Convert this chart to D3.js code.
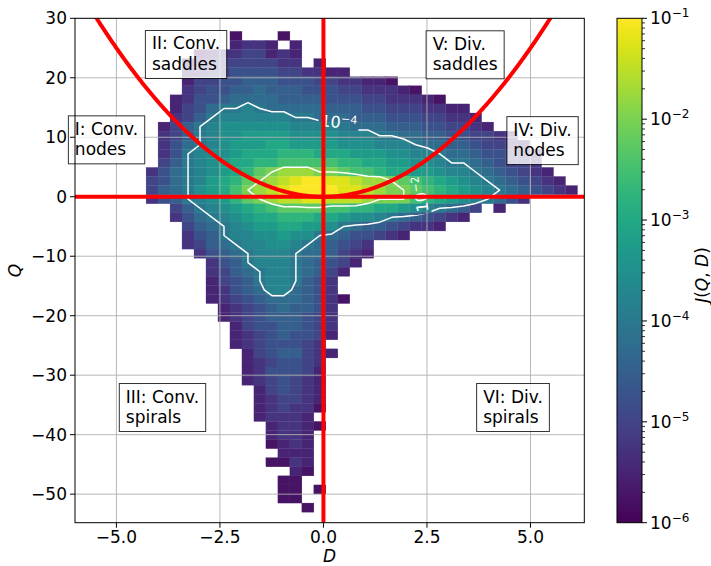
<!DOCTYPE html>
<html><head><meta charset="utf-8">
<script src="https://cdn.jsdelivr.net/npm/d3@7"></script>
<style>body{margin:0;background:#fff} svg{font-family:"DejaVu Sans",sans-serif}</style>
</head><body>
<svg id="c" width="711" height="566"></svg>
<script>
// ---------------- DATA ----------------
// histogram bin geometry (data units)
const dBinStart = -4.283, dBinWidth = 0.2894;   // D bins (left edge of column 0, width)
const qBinTop = 27.8, qBinHeight = 1.525;       // Q bins (top edge of row 0, height)
const nCols = 36;
// each row (top -> bottom): "firstColumn:levels", level char L (0-9,a-k) -> log10 J = -6 + L/4, '.' = empty
const histRows = [
 "7:1...1",
 "7:2332.2",
 "4:123344232",
 "3:1234444433.2",
 "3:2344 5555 4433 22",
 "3:2445 5666 5554 4332 21",
 "3:3455 6676 6655 5443 3321",
 "2:2355 6777 7666 6555 4433 321",
 "2:2457 8898 7777 7666 5544 4332 2",
 "2:3468 9999 9988 7776 6655 5443 32",
 "1:2468 9aaa aaa9 9998 7776 6655 4432",
 "1:3468 9aab bbba aaa9 9988 7766 5544 32",
 "1:3578 9abb bccb bbba aa99 9877 6654 432",
 "1:358 9aab cccd ddcc cbbb aa99 8776 5543 2",
 "1:468 9abc cdde eeee ddcc bbaa 9887 6544 3",
 "0:3578 9abc dfgh hhgg feed ccbb a998 7654 32",
 "0:4578 9bcd fghi jkkj jihh gfed cba9 8765 432",
 "0:4678 abce ghij kkkk jjih ggfe dcba 9876 5432",
 "0:3568 9abd fghi ijji iihg gged cba9 8753",
 "2:46 89ab cdef fffe eddc cba9 8764 .2",
 "2:357 89ab ccdd dccb aa98 7654 32",
 "3:4678 9abb ccbb a876 6543 32",
 "3:3568 99aa baa8 7655 432",
 "3:3467 899a a987 6543",
 "4:3567 8999 8776 432",
 "5:3568 9998 7654 2",
 "5:3467 8998 7642",
 "5:2456 8998 653",
 "5:2356 7997 653",
 "5:2345 6777 6531",
 "6:2345 6766 53",
 "6:2345 6665 43",
 "7:2455 6654 3",
 "7:2345 6554 2",
 "7:2345 5543",
 "8:2456 6432",
 "8:2345 543",
 "8:2355 542",
 "8:2345 432",
 "9:2454 32",
 "9:2344 32",
 "9:2343 31",
 "9:2333 2",
 "10:2332 1",
 "10:2332",
 "10:1232",
 "11:222",
 "10:1132",
 "12:21",
 "11:11",
 "11:11.1",
 "11:11",
 "13:1"
];
const xTicks = [-5, -2.5, 0, 2.5, 5];
const yTicks = [30, 20, 10, 0, -10, -20, -30, -40, -50];
const cbarExponents = [-1, -2, -3, -4, -5, -6];
const contourLevels = [1e-4, 1e-2];
const contourLabels = [
  {exp: "−4", d: 0.37, q: 12.5, angle: 6},
  {exp: "−2", d: 2.35, q: 0.45, angle: -97}
];
const regionBoxes = [
  {lines: ["I: Conv.", "nodes"],    d: -6.16, q: 13.6},
  {lines: ["II: Conv.", "saddles"], d: -4.30, q: 27.95},
  {lines: ["V: Div.", "saddles"],   d: 2.48,  q: 27.9},
  {lines: ["IV: Div.", "nodes"],    d: 4.43,  q: 13.47},
  {lines: ["III: Conv.", "spirals"],d: -4.93, q: -31.4},
  {lines: ["VI: Div.", "spirals"],  d: 3.70,  q: -31.4}
];

// ---------------- LAYOUT ----------------
const svg = d3.select("#c");
const P = {left: 75, right: 584.3, top: 18.3, bottom: 522.7};
const CB = {left: 617, right: 642, top: 18.3, bottom: 522.7};
const xs = d3.scaleLinear().domain([-6, 6.3]).range([P.left, P.right]);
const ys = d3.scaleLinear().domain([-54.8, 30]).range([P.bottom, P.top]);
const color = d3.scaleSequentialLog(d3.interpolateViridis).domain([1e-6, 1e-1]).clamp(true);
const FS = 17;

const defs = svg.append("defs");
defs.append("clipPath").attr("id", "clip").append("rect")
  .attr("x", P.left).attr("y", P.top).attr("width", P.right - P.left).attr("height", P.bottom - P.top);

// parse histogram
const nRows = histRows.length;
const values = new Array(nCols * nRows).fill(0);
const cells = [];
histRows.forEach((r, j) => {
  const k = r.indexOf(":");
  const st = +r.slice(0, k);
  const chars = r.slice(k + 1).replace(/\s/g, "");
  [...chars].forEach((ch, n) => {
    if (ch === ".") return;
    const i = st + n;
    const v = Math.pow(10, -6 + parseInt(ch, 36) / 4);
    values[j * nCols + i] = v;
    cells.push({i, j, v});
  });
});

const plotG = svg.append("g").attr("clip-path", "url(#clip)");
const x0 = i => xs(dBinStart + i * dBinWidth);
const y0 = j => ys(qBinTop - j * qBinHeight);
plotG.append("g").selectAll("rect").data(cells).join("rect")
  .attr("x", d => x0(d.i)).attr("y", d => y0(d.j))
  .attr("width", d => x0(d.i + 1) - x0(d.i)).attr("height", d => y0(d.j + 1) - y0(d.j))
  .attr("fill", d => color(d.v)).attr("stroke", d => color(d.v)).attr("stroke-width", 0.3);

// grid
const gridG = plotG.append("g").attr("stroke", "#b0b0b0").attr("stroke-width", 0.9);
xTicks.forEach(t => gridG.append("line").attr("x1", xs(t)).attr("x2", xs(t)).attr("y1", P.top).attr("y2", P.bottom));
yTicks.forEach(t => gridG.append("line").attr("y1", ys(t)).attr("y2", ys(t)).attr("x1", P.left).attr("x2", P.right));

// contour labels (create first to measure for mask)
const mask = defs.append("mask").attr("id", "cmask").attr("maskUnits", "userSpaceOnUse")
  .attr("x", 0).attr("y", 0).attr("width", 711).attr("height", 566);
mask.append("rect").attr("width", 711).attr("height", 566).attr("fill", "white");
const labG = svg.append("g").attr("clip-path", "url(#clip)");
contourLabels.forEach(c => {
  const tr = `translate(${xs(c.d)},${ys(c.q)}) rotate(${c.angle})`;
  const t = labG.append("text").attr("transform", tr).attr("fill", "white")
    .attr("font-size", 16).attr("text-anchor", "middle").attr("dy", "0.35em");
  t.append("tspan").text("10");
  t.append("tspan").attr("dy", "-0.55em").attr("font-size", 11).text(c.exp);
  const bb = t.node().getBBox();
  mask.append("rect").attr("transform", tr)
    .attr("x", bb.x - 2).attr("y", bb.y + 1).attr("width", bb.width + 4).attr("height", bb.height - 2)
    .attr("fill", "black");
});

// contours
const contours = d3.contours().size([nCols, nRows]).thresholds(contourLevels)(values);
const proj = d3.geoTransform({point: function(x, y) {
  this.stream.point(xs(dBinStart + x * dBinWidth), ys(qBinTop - y * qBinHeight));
}});
const cG = svg.insert("g", () => labG.node()).attr("clip-path", "url(#clip)");
cG.append("g").attr("mask", "url(#cmask)").selectAll("path").data(contours).join("path")
  .attr("d", d3.geoPath(proj)).attr("fill", "none").attr("stroke", "white").attr("stroke-width", 1.5)
  .attr("stroke-linejoin", "round");

// red lines
const redG = svg.append("g").attr("clip-path", "url(#clip)").attr("stroke", "#ff0000")
  .attr("stroke-width", 4).attr("fill", "none");
redG.append("line").attr("x1", xs(0)).attr("x2", xs(0)).attr("y1", P.top).attr("y2", P.bottom);
redG.append("line").attr("y1", ys(0)).attr("y2", ys(0)).attr("x1", P.left).attr("x2", P.right);
const parabD = d3.range(-6, 6.31, 0.02);
redG.append("path").attr("d", d3.line().x(d => xs(d)).y(d => ys(d * d))(parabD));

// region boxes
regionBoxes.forEach(b => {
  const bx = xs(b.d), by = ys(b.q);
  const g = svg.append("g");
  const rect = g.append("rect");
  const t = g.append("text").attr("font-size", FS).attr("fill", "black");
  b.lines.forEach((l, k) => t.append("tspan").attr("x", bx + 6.5).attr("y", by + 19 + k * 20.5).text(l));
  const w = t.node().getBBox().width + 13;
  rect.attr("x", bx).attr("y", by).attr("width", w).attr("height", 48)
    .attr("fill", "white").attr("stroke", "black").attr("stroke-width", 1).attr("opacity", 0.8);
});

// axes frame
svg.append("rect").attr("x", P.left).attr("y", P.top).attr("width", P.right - P.left)
  .attr("height", P.bottom - P.top).attr("fill", "none").attr("stroke", "black").attr("stroke-width", 1);

const fmtX = d3.format(".1f"), fmtY = d3.format("d");
const ax = svg.append("g").attr("font-size", FS).attr("fill", "black");
xTicks.forEach(t => {
  ax.append("line").attr("x1", xs(t)).attr("x2", xs(t)).attr("y1", P.bottom).attr("y2", P.bottom + 5)
    .attr("stroke", "black");
  ax.append("text").attr("x", xs(t)).attr("y", 543).attr("text-anchor", "middle").text(fmtX(t));
});
yTicks.forEach(t => {
  ax.append("line").attr("x1", P.left - 5).attr("x2", P.left).attr("y1", ys(t)).attr("y2", ys(t))
    .attr("stroke", "black");
  ax.append("text").attr("x", P.left - 8).attr("y", ys(t)).attr("dy", "0.36em").attr("text-anchor", "end").text(fmtY(t));
});
ax.append("text").attr("x", (P.left + P.right) / 2).attr("y", 562).attr("text-anchor", "middle")
  .attr("font-style", "italic").text("D");
ax.append("text").attr("transform", `translate(21,${(P.top + P.bottom) / 2}) rotate(-90)`)
  .attr("text-anchor", "middle").attr("font-style", "italic").text("Q");

// colorbar
const grad = defs.append("linearGradient").attr("id", "vir").attr("x1", 0).attr("y1", 1).attr("x2", 0).attr("y2", 0);
d3.range(0, 1.0001, 0.02).forEach(t => grad.append("stop").attr("offset", t).attr("stop-color", d3.interpolateViridis(t)));
svg.append("rect").attr("x", CB.left).attr("y", CB.top).attr("width", CB.right - CB.left)
  .attr("height", CB.bottom - CB.top).attr("fill", "url(#vir)").attr("stroke", "black").attr("stroke-width", 1);
const cys = d3.scaleLog().domain([1e-6, 1e-1]).range([CB.bottom, CB.top]);
const cbG = svg.append("g").attr("font-size", FS);
cbarExponents.forEach(e => {
  const v = Math.pow(10, e);
  cbG.append("line").attr("x1", CB.right).attr("x2", CB.right + 5).attr("y1", cys(v)).attr("y2", cys(v)).attr("stroke", "black");
  const t = cbG.append("text").attr("x", CB.right + 8).attr("y", cys(v)).attr("dy", "0.36em");
  t.append("tspan").text("10");
  t.append("tspan").attr("dy", "-0.6em").attr("font-size", 12).text("−" + Math.abs(e));
  if (e > -6) {
    for (let m = 2; m <= 9; m++) {
      const mv = m * Math.pow(10, e - 1);
      cbG.append("line").attr("x1", CB.right).attr("x2", CB.right + 3).attr("y1", cys(mv)).attr("y2", cys(mv))
        .attr("stroke", "black").attr("stroke-width", 0.8);
    }
  }
});
const cbLabel = cbG.append("text").attr("transform", `translate(708,275) rotate(-90)`)
  .attr("text-anchor", "middle");
cbLabel.append("tspan").attr("font-style", "italic").text("J");
cbLabel.append("tspan").text("(");
cbLabel.append("tspan").attr("font-style", "italic").text("Q");
cbLabel.append("tspan").text(", ");
cbLabel.append("tspan").attr("font-style", "italic").text("D");
cbLabel.append("tspan").text(")");
</script>
</body></html>
